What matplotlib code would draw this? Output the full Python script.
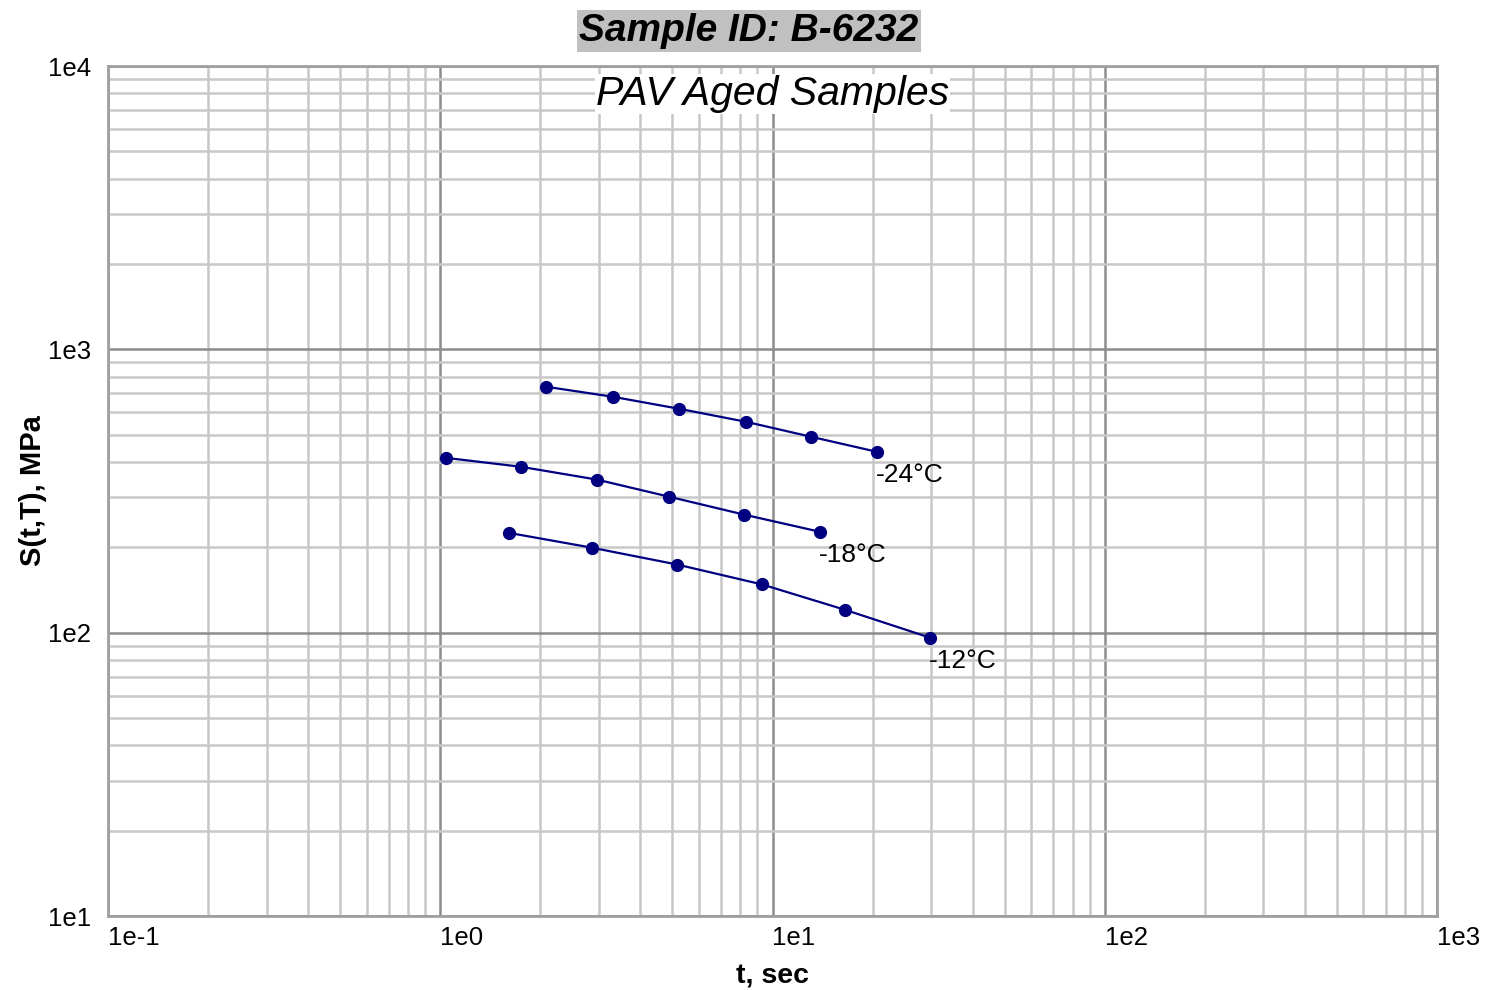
import numpy as np
import matplotlib.pyplot as plt
from matplotlib.ticker import LogLocator, NullFormatter, FixedLocator

plt.rcParams['font.family'] = ['Liberation Sans', 'DejaVu Sans']

# creep stiffness data
t_24 = [2.08, 3.31, 5.23, 8.32, 13.1, 20.6]
s_24 = [738, 680, 617, 555, 491, 435]
t_18 = [1.04, 1.75, 2.96, 4.88, 8.21, 13.9]
s_18 = [414, 385, 347, 302, 261, 227]
t_12 = [1.61, 2.86, 5.16, 9.30, 16.5, 29.8]
s_12 = [225, 199.5, 174, 148, 120.5, 96]
series_labels = ['-24°C', '-18°C', '-12°C']

x_ticks = [1e-1, 1e0, 1e1, 1e2, 1e3]
x_tick_labels = ['1e-1', '1e0', '1e1', '1e2', '1e3']
y_ticks = [1e1, 1e2, 1e3, 1e4]
y_tick_labels = ['1e1', '1e2', '1e3', '1e4']

fig = plt.figure(figsize=(14.87, 9.9), dpi=100)
ax = fig.add_axes([108 / 1487, 74 / 990, 1329 / 1487, 850 / 990])
ax.set_xscale('log')
ax.set_yscale('log')
ax.set_xlim(1e-1, 1e3)
ax.set_ylim(1e1, 1e4)

ax.xaxis.set_major_locator(FixedLocator(x_ticks))
ax.yaxis.set_major_locator(FixedLocator(y_ticks))
ax.xaxis.set_minor_locator(LogLocator(base=10, subs=np.arange(2, 10)))
ax.yaxis.set_minor_locator(LogLocator(base=10, subs=np.arange(2, 10)))
ax.xaxis.set_minor_formatter(NullFormatter())
ax.yaxis.set_minor_formatter(NullFormatter())
ax.set_xticklabels(x_tick_labels, ha='left')
ax.set_yticklabels(y_tick_labels)
ax.tick_params(which='both', length=0, labelsize=18.5, colors='black')
ax.tick_params(axis='x', pad=7)
ax.tick_params(axis='y', pad=12)

ax.grid(which='minor', color='#c8c8c8', linewidth=1.8)
ax.grid(which='major', color='#8c8c8c', linewidth=1.8)
ax.set_axisbelow(True)
for sp in ax.spines.values():
    sp.set_color('#a0a0a0')
    sp.set_linewidth(2)

for t, s, lab in zip([t_24, t_18, t_12], [s_24, s_18, s_12], series_labels):
    ax.plot(t, s, color='#000080', linewidth=1.6, marker='o', markersize=8.5)
    ax.annotate(lab, (t[-1], s[-1]), xytext=(-1, -17), textcoords='offset points',
                ha='left', va='center', fontsize=19)

ax.set_xlabel('t, sec', fontsize=20.5, fontweight='bold', labelpad=10)
ax.set_ylabel('S(t,T), MPa', fontsize=21, fontweight='bold', labelpad=1)

fig.text(749 / 1487, 1 - 31 / 990, 'Sample ID: B-6232', ha='center', va='center',
         fontsize=28, fontweight='bold', fontstyle='italic',
         bbox=dict(facecolor='#c0c0c0', edgecolor='none', pad=2))
ax.text(0.5, 0.967, 'PAV Aged Samples', transform=ax.transAxes, ha='center',
        va='center', fontsize=29.5, fontstyle='italic',
        bbox=dict(facecolor='white', edgecolor='none', pad=0.5))

plt.savefig('out.png', dpi=100)
